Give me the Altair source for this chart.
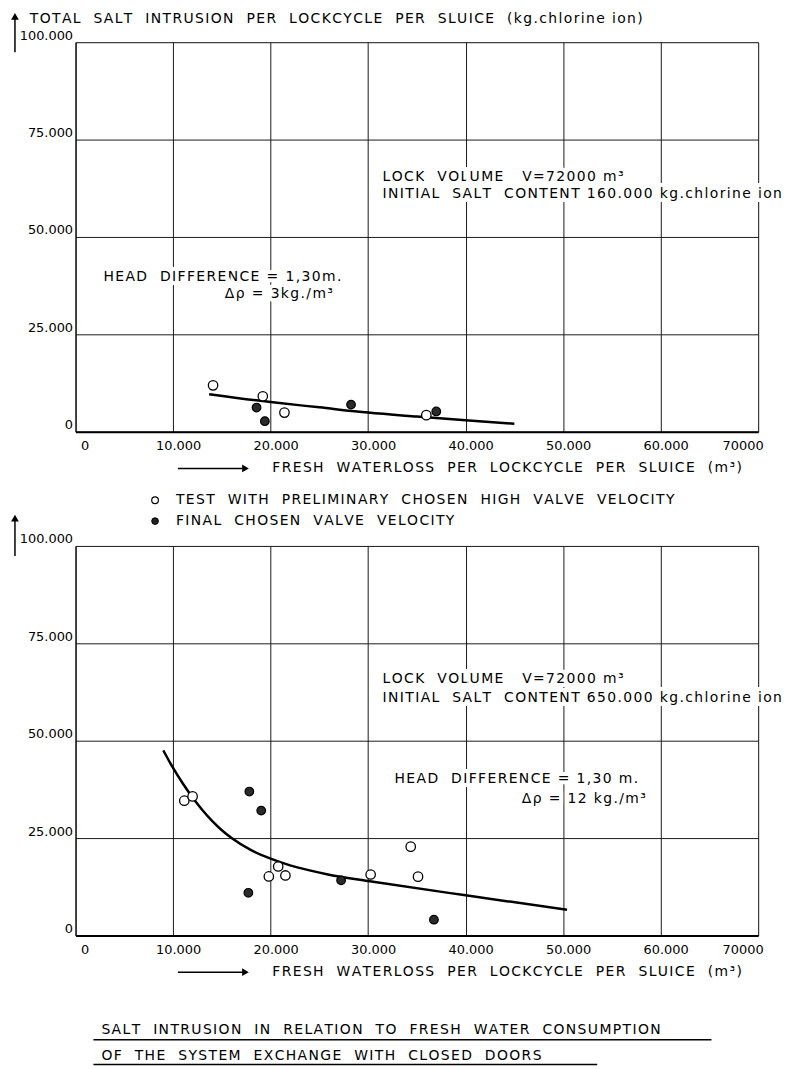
import altair as alt
import pandas as pd

FONT = "DejaVu Sans"

# ---- axis ticks / labels ----
x_ticks = [0, 10000, 20000, 30000, 40000, 50000, 60000, 70000]
x_tick_labels = ["0", "10.000", "20.000", "30.000", "40.000", "50.000", "60.000", "70000"]
y_ticks = [0, 25000, 50000, 75000, 100000]
y_tick_labels = ["0", "25.000", "50.000", "75.000", "100.000"]

# ---- top panel (delta rho = 3 kg/m3) ----
top_open_x = [14100, 19200, 21420, 35970]
top_open_y = [11900, 9100, 4900, 4250]
top_final_x = [18560, 19410, 28250, 36990]
top_final_y = [6200, 2700, 6950, 5200]
top_curve_x = [13700, 20000, 25000, 30000, 35000, 40000, 45000]
top_curve_y = [9640, 7600, 6250, 4900, 3880, 2930, 2050]

# ---- bottom panel (delta rho = 12 kg/m3) ----
bot_open_x = [11150, 12000, 19820, 20780, 21520, 30260, 34370, 35120]
bot_open_y = [34600, 35700, 15150, 17700, 15400, 15650, 22800, 15100]
bot_final_x = [17820, 19040, 17720, 27230, 36750]
bot_final_y = [36950, 32050, 10950, 14150, 4050]
bot_curve_x = [9000, 10000, 11000, 12000, 13000, 14000, 15000, 16000, 18000,
               20000, 22000, 24000, 26000, 30000, 40000, 50400]
bot_curve_y = [47500, 43000, 39000, 35400, 32200, 29400, 27000, 25000, 21900,
               19700, 18000, 16700, 15600, 14000, 10300, 6600]

W, H = 687, 392
HAIR = "\u200a"


def sp(s):
    s = s.replace("  ", "\u00a0\u00a0")
    return HAIR.join(list(s))


def xlabel_expr():
    arr = ",".join("'%s'" % s for s in x_tick_labels)
    return "[%s][round(datum.value/10000)]" % arr


def ylabel_expr():
    arr = ",".join("'%s'" % s for s in y_tick_labels)
    return "[%s][round(datum.value/25000)]" % arr


X = alt.X("x:Q", scale=alt.Scale(domain=[0, 70000], nice=False, zero=True),
          axis=alt.Axis(values=x_ticks, labelExpr=xlabel_expr(), title=None,
                        grid=True, gridColor="#1a1a1a", gridOpacity=1, gridWidth=1,
                        ticks=False, domain=True, domainWidth=2,
                        domainColor="black", labelPadding=8, labelOffset=5,
                        labelFontSize=13, labelAngle=0, labelColor="black", labelFont=FONT))
Y = alt.Y("y:Q", scale=alt.Scale(domain=[0, 100000], nice=False, zero=True),
          axis=alt.Axis(values=y_ticks, labelExpr=ylabel_expr(), title=None,
                        grid=True, gridColor="#1a1a1a", gridOpacity=1, gridWidth=1,
                        ticks=False, domain=True, domainWidth=1,
                        domainColor="black", labelPadding=3, labelBaseline="bottom",
                        labelAlign="right", labelFontSize=13, labelColor="black", labelFont=FONT))


def txt(s, x, y, align="left", size=14, halo=True):
    d = alt.Data(values=[{"t": sp(s)}])
    base = alt.Chart(d).encode(x=alt.value(x), y=alt.value(y), text="t:N")
    out = []
    if halo:
        out.append(base.mark_text(align=align, baseline="middle", font=FONT,
                                  fontSize=size, stroke="white", strokeWidth=8,
                                  fill="white"))
    out.append(base.mark_text(align=align, baseline="middle", font=FONT,
                              fontSize=size, color="black"))
    return out


def rule(x, y, x2=None, y2=None, w=1.5):
    enc = dict(x=alt.value(x), y=alt.value(y))
    if x2 is not None:
        enc["x2"] = alt.value(x2)
    if y2 is not None:
        enc["y2"] = alt.value(y2)
    return alt.Chart(alt.Data(values=[{}])).mark_rule(color="black", strokeWidth=w).encode(**enc)


def tri(x, y, shape, size=50):
    return alt.Chart(alt.Data(values=[{}])).mark_point(
        shape=shape, filled=True, color="black", size=size, opacity=1
    ).encode(x=alt.value(x), y=alt.value(y))


def dot(x, y, filled, size=45):
    if filled:
        m = alt.Chart(alt.Data(values=[{}])).mark_point(shape="circle", filled=True, fill="#222",
                                                         stroke="black", strokeWidth=1, size=size, opacity=1)
    else:
        m = alt.Chart(alt.Data(values=[{}])).mark_point(shape="circle", filled=True, fill="white",
                                                         stroke="black", strokeWidth=1.2, size=size, opacity=1)
    return m.encode(x=alt.value(x), y=alt.value(y))


def panel(ox, oy, fx, fy, cx, cy, annotations, extra):
    open_df = pd.DataFrame({"x": ox, "y": oy})
    final_df = pd.DataFrame({"x": fx, "y": fy})
    curve_df = pd.DataFrame({"x": cx, "y": cy})
    base_layers = [
        alt.Chart(curve_df).mark_line(color="black", strokeWidth=2.5, interpolate="monotone").encode(x=X, y=Y),
        alt.Chart(open_df).mark_point(shape="circle", filled=True, fill="white", stroke="black",
                                      strokeWidth=1.3, size=90, opacity=1).encode(x=X, y=Y),
        alt.Chart(final_df).mark_point(shape="circle", filled=True, fill="#2a2a2a", stroke="black",
                                       strokeWidth=1.2, size=75, opacity=1).encode(x=X, y=Y),
    ]
    layers = base_layers + annotations + extra
    return alt.layer(*layers).properties(width=W, height=H)


def xtitle():
    return [rule(103, 429, x2=168, w=1.5), tri(171, 429, "triangle-right", 60)] + \
        txt("FRESH  WATERLOSS  PER  LOCKCYCLE  PER  SLUICE  (m³)", 198, 429, halo=False)


top_ann = (
    txt("LOCK  VOLUME   V=72000 m³", 309, 136)
    + txt("INITIAL  SALT  CONTENT 160.000 kg.chlorine ion", 309, 153)
    + txt("HEAD  DIFFERENCE = 1,30m.", 28, 236)
    + txt("Δρ = 3kg./m³", 259, 253, align="right")
)
top_extra = (
    [rule(-61, -26, y2=10, w=1.5), tri(-61, -26, "triangle-up", 60)]
    + txt("TOTAL  SALT  INTRUSION  PER  LOCKCYCLE  PER  SLUICE  (kg.chlorine ion)", -46, -23, halo=False)
    + xtitle()
    + [dot(80, 461, False), dot(80, 482, True)]
    + txt("TEST  WITH  PRELIMINARY  CHOSEN  HIGH  VALVE  VELOCITY", 101, 461, halo=False)
    + txt("FINAL  CHOSEN  VALVE  VELOCITY", 101, 482, halo=False)
)

bot_ann = (
    txt("LOCK  VOLUME   V=72000 m³", 309, 134)
    + txt("INITIAL  SALT  CONTENT 650.000 kg.chlorine ion", 309, 153)
    + txt("HEAD  DIFFERENCE = 1,30 m.", 321, 235)
    + txt("Δρ = 12 kg./m³", 574, 255, align="right")
)
bot_extra = (
    [rule(-61, -28, y2=10, w=1.5), tri(-61, -28, "triangle-up", 60)]
    + xtitle()
    + txt("SALT  INTRUSION  IN  RELATION  TO  FRESH  WATER  CONSUMPTION", 26, 487, halo=False)
    + [rule(18, 497, x2=640, w=1.5)]
    + txt("OF  THE  SYSTEM  EXCHANGE  WITH  CLOSED  DOORS", 26, 513, halo=False)
    + [rule(18, 522, x2=525, w=1.5)]
)

top = panel(top_open_x, top_open_y, top_final_x, top_final_y, top_curve_x, top_curve_y, top_ann, top_extra)
bot = panel(bot_open_x, bot_open_y, bot_final_x, bot_final_y, bot_curve_x, bot_curve_y, bot_ann, bot_extra)

chart = alt.vconcat(top, bot, spacing=115, bounds="flush").properties(
    padding={"left": 2, "top": 0, "right": 0, "bottom": 0}
).configure_view(
    stroke="black", strokeWidth=1
).configure(background="white")

chart.save("out.html", embed_options={"renderer": "svg", "actions": False})
